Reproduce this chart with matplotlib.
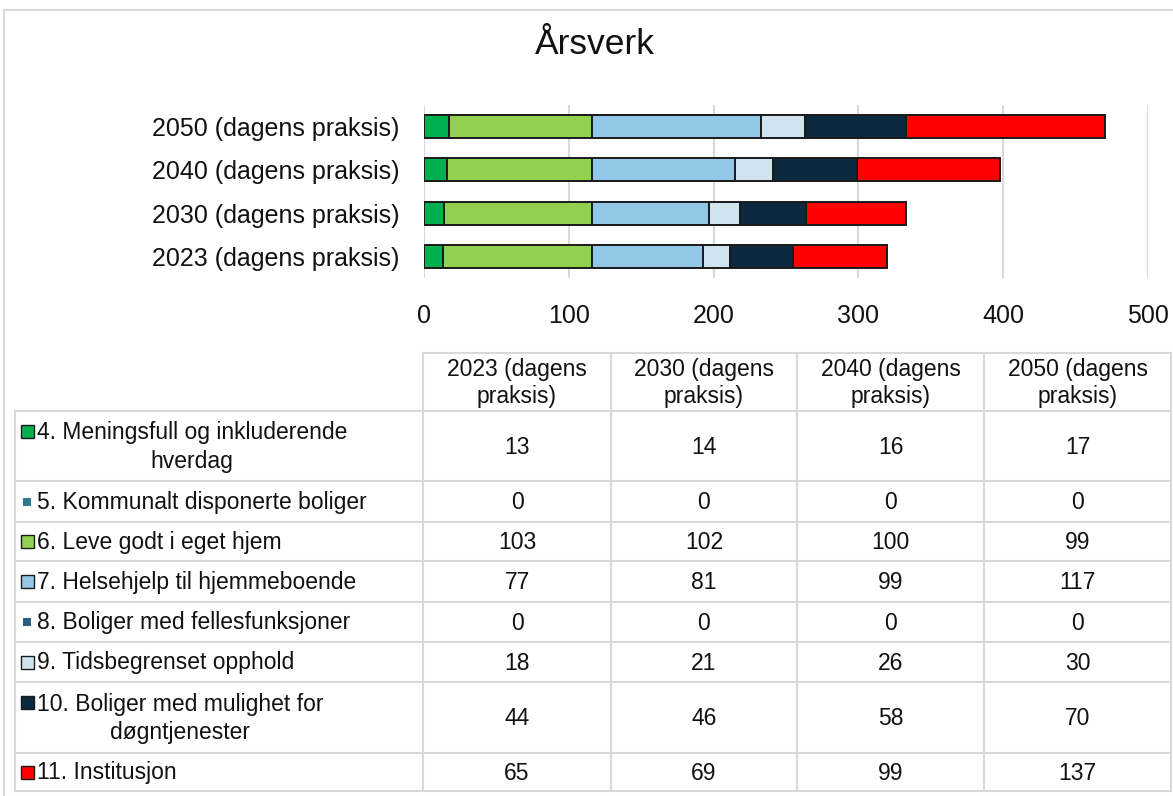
import matplotlib.pyplot as plt
from matplotlib.patches import Rectangle
import numpy as np

plt.rcParams['font.family'] = ['Liberation Sans', 'DejaVu Sans']

# data
years = ['2023 (dagens praksis)', '2030 (dagens praksis)',
         '2040 (dagens praksis)', '2050 (dagens praksis)']
col_heads = ['2023 (dagens\npraksis)', '2030 (dagens\npraksis)',
             '2040 (dagens\npraksis)', '2050 (dagens\npraksis)']
series = ['4. Meningsfull og inkluderende\nhverdag',
          '5. Kommunalt disponerte boliger',
          '6. Leve godt i eget hjem',
          '7. Helsehjelp til hjemmeboende',
          '8. Boliger med fellesfunksjoner',
          '9. Tidsbegrenset opphold',
          '10. Boliger med mulighet for\ndøgntjenester',
          '11. Institusjon']
meningsfull = [13, 14, 16, 17]
kommunalt = [0, 0, 0, 0]
leve_godt = [103, 102, 100, 99]
helsehjelp = [77, 81, 99, 117]
fellesfunk = [0, 0, 0, 0]
tidsbegr = [18, 21, 26, 30]
dogn = [44, 46, 58, 70]
institusjon = [65, 69, 99, 137]
values = [meningsfull, kommunalt, leve_godt, helsehjelp,
          fellesfunk, tidsbegr, dogn, institusjon]
colors = ['#00B050', '#31798C', '#92D050', '#93C7E8',
          '#2D5B7C', '#CFE4EE', '#0B2A3F', '#FF0000']
small_marker = [False, True, False, False, True, False, False, False]

W, H = 1173, 796
fig = plt.figure(figsize=(W / 100, H / 100), dpi=100)

# background axes in pixel units for frame + table
bg = fig.add_axes([0, 0, 1, 1])
bg.set_xlim(0, W)
bg.set_ylim(H, 0)
bg.axis('off')
grid_c = '#D9D9D9'
txt_c = '#111111'
bg.plot([4, 4], [10, 800], color=grid_c, lw=1.5)
bg.plot([4, W], [10, 10], color=grid_c, lw=1.5)

bg.text(595, 44, 'Årsverk', ha='center', va='center', fontsize=25.5,
        color=txt_c)

# bar chart
ax = fig.add_axes([424 / W, 1 - 278 / H, (1148 - 424) / W, 173 / H])
y = np.arange(len(years))
left = np.zeros(len(years))
for vals, c in zip(values, colors):
    ax.barh(y, vals, left=left, height=0.53, color=c,
            edgecolor='#1a1a1a', linewidth=1.4, zorder=3)
    left += np.array(vals)
ax.set_xlim(0, 500)
ax.set_ylim(-0.5, 3.5)
ax.set_yticks(y)
ax.set_yticklabels(years)
ax.set_xticks(np.arange(0, 501, 100))
ax.tick_params(length=0, labelsize=18, colors=txt_c)
ax.tick_params(axis='y', pad=18)
ax.tick_params(axis='x', pad=19)
ax.grid(axis='x', color=grid_c, lw=1.5, zorder=0)
for s in ax.spines.values():
    s.set_visible(False)

# data table
col_x = [15, 423, 611, 797, 984, 1171]
row_y = [353, 411, 481, 522, 561, 602, 642, 682, 753, 791]
fs = 16.5
# header
bg.plot([423, 1171], [353, 353], color=grid_c, lw=1.5)
for xx in col_x[1:]:
    bg.plot([xx, xx], [353, 411], color=grid_c, lw=1.5)
for j, h in enumerate(col_heads):
    bg.text((col_x[j + 1] + col_x[j + 2]) / 2, (353 + 411) / 2 + 1, h,
            ha='center', va='center', fontsize=fs, color=txt_c,
            linespacing=1.25)
for yy in row_y[1:]:
    bg.plot([15, 1171], [yy, yy], color=grid_c, lw=1.5)
for xx in col_x:
    bg.plot([xx, xx], [411, 791], color=grid_c, lw=1.5)

for i, name in enumerate(series):
    top, bot = row_y[i + 1], row_y[i + 2]
    cy = (top + bot) / 2
    two_line = '\n' in name
    my = top + 20 if two_line else cy
    if small_marker[i]:
        bg.add_patch(Rectangle((23, my - 4), 8, 8, color=colors[i], lw=0))
    else:
        bg.add_patch(Rectangle((21, my - 6.5), 13, 13, facecolor=colors[i],
                               edgecolor='#1a1a1a', lw=1))
    bg.text(37, cy + 1, name, ha='left', va='center', fontsize=fs,
            multialignment='center', color=txt_c, linespacing=1.3)
    for j in range(len(years)):
        bg.text((col_x[j + 1] + col_x[j + 2]) / 2, cy + 1, str(values[i][j]),
                ha='center', va='center', fontsize=fs, color=txt_c)

fig.savefig('out.png', dpi=100)
